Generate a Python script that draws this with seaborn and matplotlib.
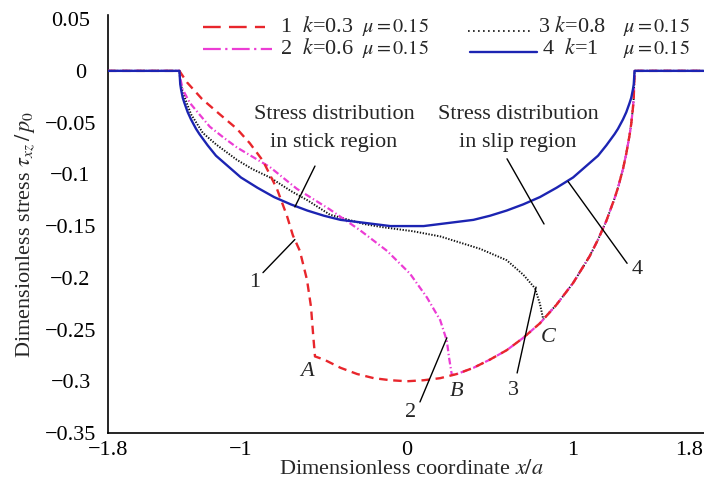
import matplotlib
matplotlib.use("Agg")
import matplotlib.pyplot as plt
import matplotlib.transforms as mtransforms
import pandas as pd
import seaborn as sns

# Shear stress profiles tau_xz/p0 along the contact, four stiffness ratios k (mu = 0.15)
x1 = [-1.8, -1.37, -1.325, -1.235, -1.127, -1.024, -0.946, -0.867, -0.783, -0.723,
      -0.687, -0.645, -0.602, -0.578, -0.566, -0.554, -0.5, -0.4, -0.3, -0.2, -0.1,
      0.0, 0.1, 0.2, 0.3, 0.4, 0.5, 0.6, 0.7, 0.8, 0.9, 1.0, 1.1, 1.15, 1.2, 1.25,
      1.27, 1.30, 1.32, 1.34, 1.35, 1.36, 1.365, 1.37, 1.8]
y1 = [0.0, 0.0, -0.011, -0.027, -0.042, -0.056, -0.070, -0.087, -0.114, -0.140,
      -0.159, -0.174, -0.202, -0.228, -0.253, -0.276, -0.279, -0.287, -0.293, -0.297,
      -0.299, -0.300, -0.299, -0.297, -0.293, -0.287, -0.279, -0.270, -0.258, -0.244,
      -0.226, -0.205, -0.179, -0.163, -0.145, -0.123, -0.113, -0.095, -0.080, -0.062,
      -0.051, -0.036, -0.026, 0.0, 0.0]

x2 = [-1.8, -1.37, -1.365, -1.35, -1.307, -1.25, -1.187, -1.1, -1.024, -0.93, -0.825,
      -0.663, -0.464, -0.283, -0.12, 0.018, 0.12, 0.2, 0.24, 0.253, 0.265, 0.27, 0.3,
      0.4, 0.5, 0.6, 0.7, 0.8, 0.9, 1.0, 1.1, 1.15, 1.2, 1.25, 1.27, 1.30, 1.32, 1.34,
      1.35, 1.36, 1.365, 1.37, 1.8]
y2 = [0.0, 0.0, -0.007, -0.018, -0.031, -0.042, -0.054, -0.065, -0.074, -0.083, -0.093,
      -0.114, -0.134, -0.154, -0.174, -0.196, -0.219, -0.241, -0.261, -0.277, -0.289,
      -0.294, -0.293, -0.287, -0.279, -0.270, -0.258, -0.244, -0.226, -0.205, -0.179,
      -0.163, -0.145, -0.123, -0.113, -0.095, -0.080, -0.062, -0.051, -0.036, -0.026,
      0.0, 0.0]

x3 = [-1.8, -1.37, -1.365, -1.35, -1.30, -1.229, -1.15, -1.024, -0.93, -0.825, -0.7,
      -0.6, -0.464, -0.35, -0.26, -0.15, 0.036, 0.2, 0.44, 0.6, 0.7, 0.77, 0.80, 0.82,
      0.9, 1.0, 1.1, 1.15, 1.2, 1.25, 1.27, 1.30, 1.32, 1.34, 1.35, 1.36, 1.365, 1.37, 1.8]
y3 = [0.0, 0.0, -0.010, -0.021, -0.042, -0.060, -0.071, -0.086, -0.095, -0.103, -0.116,
      -0.125, -0.139, -0.144, -0.148, -0.151, -0.155, -0.160, -0.172, -0.183, -0.197,
      -0.210, -0.225, -0.240, -0.226, -0.205, -0.179, -0.163, -0.145, -0.123, -0.113,
      -0.095, -0.080, -0.062, -0.051, -0.036, -0.026, 0.0, 0.0]

x4 = [-1.8, -1.37, -1.365, -1.36, -1.35, -1.34, -1.32, -1.30, -1.27, -1.25, -1.2, -1.15,
      -1.1, -1.0, -0.9, -0.8, -0.7, -0.6, -0.5, -0.4, -0.3, -0.2, -0.1, 0.0, 0.1, 0.2,
      0.3, 0.4, 0.5, 0.6, 0.7, 0.8, 0.9, 1.0, 1.1, 1.15, 1.2, 1.25, 1.27, 1.30, 1.32,
      1.34, 1.35, 1.36, 1.365, 1.37, 1.8]
y4 = [0.0, 0.0, -0.013, -0.018, -0.026, -0.031, -0.040, -0.047, -0.056, -0.061, -0.072,
      -0.082, -0.089, -0.103, -0.113, -0.122, -0.129, -0.135, -0.140, -0.144, -0.146,
      -0.148, -0.150, -0.150, -0.150, -0.148, -0.146, -0.144, -0.140, -0.135, -0.129,
      -0.122, -0.113, -0.103, -0.089, -0.082, -0.072, -0.061, -0.056, -0.047, -0.040,
      -0.031, -0.026, -0.018, -0.013, 0.0, 0.0]

curve_ids = ["1", "2", "3", "4"]
k_values = ["0.3", "0.6", "0.8", "1"]
mu_value = "0.15"

x_ticks = [-1.8, -1.0, 0.0, 1.0, 1.8]
x_tick_labels = ["\u22121.8", "\u22121", "0", "1", "1.8"]
x_minor_ticks = [-1.5, -0.5, 0.5, 1.5]
y_ticks = [0.05, 0.0, -0.05, -0.1, -0.15, -0.2, -0.25, -0.3, -0.35]
y_tick_labels = ["0.05", "0", "\u22120.05", "\u22120.1", "\u22120.15", "\u22120.2",
                 "\u22120.25", "\u22120.3", "\u22120.35"]

frames = []
for cid, xs, ys in zip(curve_ids, [x1, x2, x3, x4], [y1, y2, y3, y4]):
    frames.append(pd.DataFrame({"x": xs, "tau": ys, "curve": cid}))
df = pd.concat(frames, ignore_index=True)

sns.set_style("white")
plt.rcParams["font.family"] = ["Liberation Serif", "DejaVu Serif"]
plt.rcParams["mathtext.fontset"] = "stix"

RED = "#e8262c"
MAGENTA = "#ec3cd4"
BLUE = "#1c24b2"
BLACK = "#111111"

styles = {
    "3": dict(color=BLACK, linewidth=1.4, linestyle=(0, (0.7, 0.8)), zorder=2),
    "2": dict(color=MAGENTA, linewidth=1.6, linestyle=(0, (3.0, 1.2, 0.6, 1.2)), zorder=3),
    "1": dict(color=RED, linewidth=1.7, linestyle=(0, (3.6, 2.4)), zorder=4),
    "4": dict(color=BLUE, linewidth=1.7, linestyle="-", zorder=5),
}

fig = plt.figure(figsize=(7.04, 4.8), dpi=100)
ax = fig.add_axes([108 / 704, 47 / 480, 598 / 704, 418 / 480])

for cid in ["3", "2", "1", "4"]:
    sub = df[df["curve"] == cid]
    sns.lineplot(data=sub, x="x", y="tau", ax=ax, sort=False, estimator=None,
                 legend=False, **styles[cid])

ax.set_xlim(-1.8, 1.8)
ax.set_ylim(-0.35, 0.054)

for side in ["top", "right"]:
    ax.spines[side].set_visible(False)
for side in ["left", "bottom"]:
    ax.spines[side].set_color("black")
    ax.spines[side].set_linewidth(1.2)

ax.set_xticks(x_ticks)
ax.set_xticklabels(x_tick_labels)
ax.set_xticks(x_minor_ticks, minor=True)
ax.set_yticks(y_ticks)
ax.set_yticklabels(y_tick_labels)
ax.tick_params(which="major", direction="in", length=5, width=1.0, color="black",
               labelsize=16, labelcolor="black")
ax.tick_params(which="minor", direction="in", length=4, width=0.8, color="0.35")
ax.tick_params(axis="x", which="major", pad=6)
ax.tick_params(axis="y", which="major", pad=27)

for lbl in ax.get_yticklabels():
    lbl.set_horizontalalignment("center")
    if lbl.get_text() == "0":
        lbl.set_transform(lbl.get_transform() +
                          mtransforms.ScaledTranslation(10 / 100, 0, fig.dpi_scale_trans))
for lbl in ax.get_xticklabels():
    if lbl.get_text() == "1.8":
        lbl.set_horizontalalignment("right")
        lbl.set_transform(lbl.get_transform() +
                          mtransforms.ScaledTranslation(-3 / 100, 0, fig.dpi_scale_trans))

ax.set_xlabel("Dimensionless coordinate $x/a$", fontsize=16, va="center")
ax.xaxis.set_label_coords((411 - 108) / 598, (433 - 470) / 418)
ax.set_ylabel(r"Dimensionless stress $\tau_{xz}\,/\,p_0$", fontsize=16,
              va="center", ha="center")
ax.yaxis.set_label_coords((25 - 108) / 598, (433 - 235) / 418)

# key at the top of the plot area
key_rows = [
    # (line x0, line x1, line y, text x, mu x, text y, key line style)
    (-1.229, -0.855, 0.0426, -0.765, -0.271, 0.0426,
     dict(color=RED, linewidth=1.7, linestyle=(0, (7.5, 3.5)))),
    (-1.229, -0.813, 0.0213, -0.765, -0.271, 0.0213,
     dict(color=MAGENTA, linewidth=1.6, linestyle=(0, (8.0, 2.0, 1.0, 2.0)))),
    (0.367, 0.759, 0.0387, 0.789, 1.301, 0.0426,
     dict(color=BLACK, linewidth=1.2, linestyle=(0, (1.0, 2.0)))),
    (0.380, 0.783, 0.0184, 0.813, 1.301, 0.0213,
     dict(color=BLUE, linewidth=1.7, linestyle="-")),
]
key_texts = [
    f"{curve_ids[0]}  $k$={k_values[0]}",
    f"{curve_ids[1]}  $k$={k_values[1]}",
    f"{curve_ids[2]} $k$={k_values[2]}",
    f"{curve_ids[3]}  $k$={k_values[3]}",
]
for (lx0, lx1, ly, tx, mx, ty, st), label in zip(key_rows, key_texts):
    ax.plot([lx0, lx1], [ly, ly], clip_on=False, **st)
    ax.text(tx, ty, label, fontsize=16, ha="left", va="center")
    ax.text(mx, ty, rf"$\mu = {mu_value}$", fontsize=14.5, ha="left", va="center")

# region notes and leader lines
ax.text(-0.44, -0.0426, "Stress distribution", fontsize=16, ha="center", va="center")
ax.text(-0.44, -0.0696, "in stick region", fontsize=16, ha="center", va="center")
ax.text(0.669, -0.0426, "Stress distribution", fontsize=16, ha="center", va="center")
ax.text(0.669, -0.0696, "in slip region", fontsize=16, ha="center", va="center")

leaders = [
    ((-0.554, -0.092), (-0.675, -0.1315)),
    ((0.602, -0.085), (0.825, -0.148)),
    ((0.97, -0.107), (1.325, -0.186)),
    ((-0.675, -0.163), (-0.867, -0.195)),
    ((0.24, -0.258), (0.078, -0.320)),
    ((0.777, -0.209), (0.663, -0.292)),
]
for (xa, ya), (xb, yb) in leaders:
    ax.plot([xa, xb], [ya, yb], color="black", linewidth=1.0, zorder=6)

ax.text(1.386, -0.192, "4", fontsize=16, ha="center", va="center")
ax.text(-0.916, -0.205, "1", fontsize=16, ha="center", va="center")
ax.text(0.024, -0.330, "2", fontsize=16, ha="center", va="center")
ax.text(0.639, -0.3085, "3", fontsize=16, ha="center", va="center")
ax.text(-0.602, -0.291, "A", fontsize=16, style="italic", ha="center", va="center")
ax.text(0.301, -0.310, "B", fontsize=16, style="italic", ha="center", va="center")
ax.text(0.849, -0.258, "C", fontsize=16, style="italic", ha="center", va="center")

fig.savefig("out.png", dpi=100, facecolor="white")
